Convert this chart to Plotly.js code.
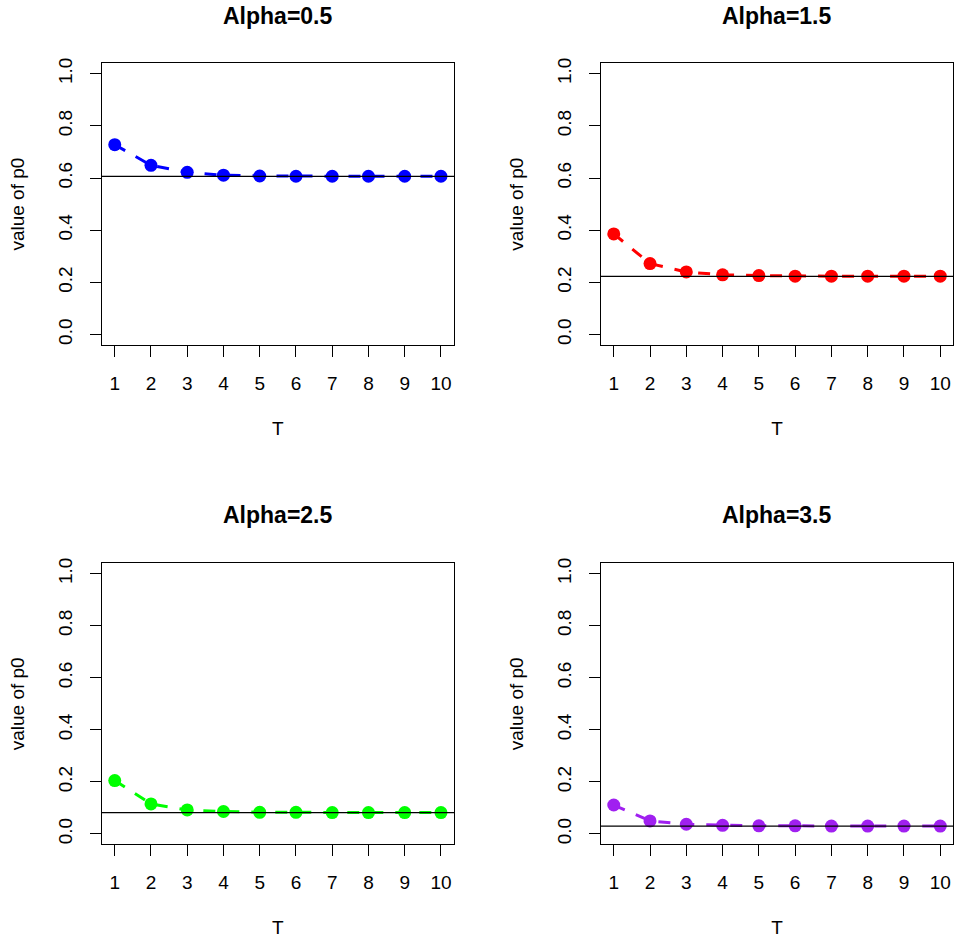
<!DOCTYPE html>
<html>
<head>
<meta charset="utf-8">
<script src="https://cdn.plot.ly/plotly-3.0.1.min.js"></script>
<style>html,body{margin:0;padding:0;background:#fff;}#chart{width:955px;height:943px;}</style>
</head>
<body>
<div id="chart"></div>
<script>
// Data
const T = [1, 2, 3, 4, 5, 6, 7, 8, 9, 10];
const alphas = [0.5, 1.5, 2.5, 3.5];
const titles = ["Alpha=0.5", "Alpha=1.5", "Alpha=2.5", "Alpha=3.5"];
const p0_a05 = [0.728, 0.649, 0.622, 0.611, 0.608, 0.607, 0.607, 0.607, 0.607, 0.607];
const p0_a15 = [0.386, 0.272, 0.240, 0.229, 0.226, 0.224, 0.224, 0.224, 0.224, 0.224];
const p0_a25 = [0.205, 0.115, 0.092, 0.086, 0.083, 0.083, 0.082, 0.082, 0.082, 0.082];
const p0_a35 = [0.111, 0.050, 0.037, 0.033, 0.031, 0.031, 0.030, 0.030, 0.030, 0.030];
const limitLines = [0.6065, 0.2231, 0.0821, 0.0302];
const colors = ["#0000FF", "#FF0000", "#00FF00", "#A020F0"];
const yTicks = [0, 0.2, 0.4, 0.6, 0.8, 1.0];
const yTickText = ["0.0", "0.2", "0.4", "0.6", "0.8", "1.0"];
const series = [p0_a05, p0_a15, p0_a25, p0_a35];

const W = 955, H = 943;
const xDomains = [[101.7 / W, 454 / W], [600.7 / W, 953.3 / W]];
const yDomains = [[1 - 345 / H, 1 - 63.3 / H], [1 - 844.3 / H, 1 - 563.3 / H]];
const font = "Liberation Sans, Arial, Helvetica, sans-serif";

const data = [];
const layout = {
  width: W, height: H,
  margin: {l: 0, r: 0, t: 0, b: 0},
  paper_bgcolor: "#ffffff",
  plot_bgcolor: "#ffffff",
  showlegend: false,
  font: {family: font, size: 19, color: "#000"},
  annotations: [],
  shapes: []
};

for (let i = 0; i < 4; i++) {
  const col = i % 2, row = Math.floor(i / 2);
  const sfx = i === 0 ? "" : String(i + 1);
  data.push({
    x: T, y: series[i],
    xaxis: "x" + sfx, yaxis: "y" + sfx,
    type: "scatter", mode: "lines+markers",
    line: {color: colors[i], width: 3, dash: "12px,12px"},
    marker: {color: colors[i], size: 13},
    hoverinfo: "x+y"
  });
  layout["xaxis" + sfx] = {
    domain: xDomains[col], anchor: "y" + sfx,
    range: [0.64, 10.36],
    tickmode: "array", tickvals: T, ticktext: T.map(String),
    ticks: "outside", ticklen: 11, tickwidth: 1.3, tickcolor: "#000",
    showline: true, mirror: true, linecolor: "#000", linewidth: 1.3,
    showgrid: false, zeroline: false,
    tickfont: {family: font, size: 19, color: "#000"},
    ticklabelstandoff: 10,
    title: {text: "T", font: {family: font, size: 19, color: "#000"}, standoff: 28},
    automargin: false, fixedrange: true
  };
  layout["yaxis" + sfx] = {
    domain: yDomains[row], anchor: "x" + sfx,
    range: [-0.04, 1.04],
    tickmode: "array", tickvals: yTicks, ticktext: yTickText,
    tickangle: -90,
    ticks: "outside", ticklen: 11, tickwidth: 1.3, tickcolor: "#000",
    showline: true, mirror: true, linecolor: "#000", linewidth: 1.3,
    showgrid: false, zeroline: false,
    tickfont: {family: font, size: 19, color: "#000"},
    ticklabelstandoff: 10,
    title: {text: "value of p0", font: {family: font, size: 19, color: "#000"}, standoff: 25},
    automargin: false, fixedrange: true
  };
  layout.shapes.push({
    type: "line", xref: "x" + sfx + " domain", yref: "y" + sfx,
    x0: 0, x1: 1, y0: limitLines[i], y1: limitLines[i],
    line: {color: "#000", width: 1.3}
  });
  const titleY = row === 0 ? 16 : 515;
  layout.annotations.push({
    text: "<b>" + titles[i] + "</b>",
    xref: "paper", yref: "paper",
    x: (xDomains[col][0] + xDomains[col][1]) / 2,
    y: 1 - titleY / H,
    xanchor: "center", yanchor: "middle",
    showarrow: false,
    font: {family: font, size: 23, color: "#000"}
  });
}

Plotly.newPlot("chart", data, layout, {displayModeBar: false, staticPlot: false});
</script>
</body>
</html>
